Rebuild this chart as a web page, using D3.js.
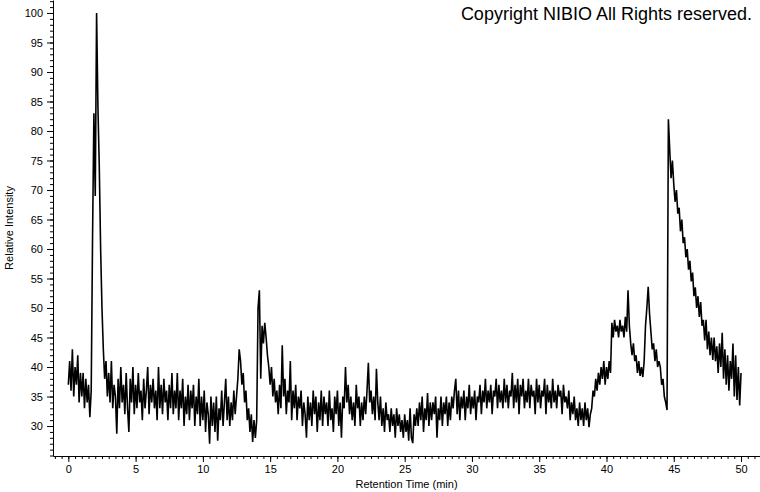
<!DOCTYPE html>
<html>
<head>
<meta charset="utf-8">
<script src="https://cdnjs.cloudflare.com/ajax/libs/d3/7.8.5/d3.min.js"></script>
<style>
  body { margin: 0; background: #fff; }
  .axis text { font-family: "Liberation Sans", Arial, sans-serif; font-size: 11px; fill: #000; }
  .axis line, .axis path { stroke: #000; }
  .label { font-family: "Liberation Sans", Arial, sans-serif; font-size: 11px; fill: #000; }
  .copy { font-family: "Liberation Sans", Arial, sans-serif; font-size: 18px; fill: #000; }
</style>
</head>
<body>
<svg id="chart" width="760" height="492"></svg>
<script>
// retention time step of the trace (min), first point at 0
var timeStep = 0.1;

// relative intensity, 10 points per minute
var intensity00to09 = [
  37, 41, 36, 43, 35, 40, 37, 42, 34, 39,
  35, 39, 33, 38, 34, 37, 31.5, 36, 62, 83,
  69, 100, 84, 74, 60, 50, 43, 38, 41, 35,
  39, 34, 41, 33, 37, 35, 28.7, 38, 33, 40,
  34, 37, 32, 39, 33, 29, 38, 34, 40, 32,
  37, 33, 39, 34, 36, 31, 38, 33, 36, 40,
  32, 37, 34, 38, 33, 36, 31, 40, 33, 37,
  32, 38, 34, 36, 31, 37, 33, 39, 32, 36,
  33, 39, 31, 36, 33, 38, 30, 35, 32, 37,
  31, 36, 33, 37, 30, 35, 32, 38, 30, 35
];
var intensity10to19 = [
  31, 36, 29, 34, 32, 27, 35, 30, 34, 29,
  35, 27.5, 33, 31, 36, 30, 34, 38, 31, 35,
  30, 34, 31, 36, 32, 35, 38, 43, 41, 37,
  39, 34, 36, 31, 33, 29, 32, 27.3, 31, 28,
  31, 50, 53, 38, 47, 44, 47.5, 45, 42, 40,
  37, 40, 35, 38, 34, 36, 32, 37, 33, 43.7,
  35, 38, 32, 36, 34, 41, 31, 36, 33, 37,
  31, 35, 33, 36, 30, 34, 32, 28, 35, 31,
  34, 30, 36, 32, 35, 29, 34, 31, 36, 30,
  35, 32, 34, 30, 36, 31, 33, 29, 35, 32
];
var intensity20to29 = [
  36, 30, 34, 28, 35, 33, 40, 34, 37, 32,
  35, 31, 34, 30, 37, 33, 35, 30, 34, 31,
  35, 32, 36, 40.7, 34, 36, 32, 35, 31, 39.7,
  34, 31, 35, 30, 33, 29, 34, 31, 32, 29,
  33, 30, 32, 28, 33, 30, 32, 29, 31, 28,
  32, 29, 31, 27.5, 33, 28, 27.1, 32, 30, 33,
  30, 34, 31, 35, 29, 33, 31, 35.6, 30, 34,
  31, 34, 32, 35, 28, 33, 31, 35, 30, 34,
  32, 35, 30, 34, 31, 35, 33, 36, 38, 32,
  36, 31, 35, 33, 36, 31, 35, 33, 37, 32
];
var intensity30to39 = [
  35, 33, 36, 31, 35, 34, 37, 32, 36, 34,
  38, 33, 36, 34, 37, 32, 36, 35, 38, 33,
  37, 34, 36, 33, 38, 34, 37, 33, 36, 35,
  39, 33, 37, 34, 38, 32, 37, 35, 38, 33,
  36, 34, 38, 33, 37, 35, 36, 32, 38, 34,
  37, 33, 36, 35, 38, 32, 37, 34, 36, 33,
  38, 34, 36, 33, 37, 35, 36, 32, 37, 34,
  35, 33, 36, 31, 34, 32, 35, 31, 33, 30,
  34, 31, 33, 30, 34, 31, 33, 29.8, 32, 33,
  36, 35, 38, 36, 39, 37, 40, 38, 41, 37
];
var intensity40to50 = [
  40, 38, 41, 39, 47.5, 45, 48, 46, 47, 45,
  48, 46, 47, 45, 48.5, 46, 53, 47, 44, 42,
  44, 41, 42, 39, 41, 38.5, 40, 38.3, 41, 47,
  50, 53.6, 49, 46, 43, 44, 41, 43, 40, 41,
  40, 37, 38, 35, 34, 32.7, 82, 76.8, 72, 75,
  71, 68, 70, 66, 67, 63, 65, 61, 62, 58.6,
  60, 56.5, 58, 54.5, 56, 52, 53.5, 50, 52, 48.5,
  51, 47, 48, 44.5, 48, 43, 46, 42, 45, 41.2,
  45, 41, 43.5, 39, 44, 40, 45.8, 38, 43, 37,
  42, 36, 41, 38, 44, 35, 42, 34.4, 40, 33.5,
  39
];

var xMajorTicks = [0, 5, 10, 15, 20, 25, 30, 35, 40, 45, 50];
var yMajorTicks = [30, 35, 40, 45, 50, 55, 60, 65, 70, 75, 80, 85, 90, 95, 100];

var intensity = [].concat(intensity00to09, intensity10to19, intensity20to29, intensity30to39, intensity40to50);
var trace = intensity.map(function(v, i) { return { t: i * timeStep, v: v }; });

var svg = d3.select("#chart"),
    WIDTH = 760,
    HEIGHT = 492,
    MARGINS = { top: 0, right: 0, bottom: 36, left: 53 };

var xScale = d3.scaleLinear().domain([-1.14, 51.41]).range([MARGINS.left, WIDTH - MARGINS.right]);
var yScale = d3.scaleLinear().domain([24.92, 102.2]).range([HEIGHT - MARGINS.bottom, MARGINS.top]);

svg.append("rect").attr("width", WIDTH).attr("height", HEIGHT).attr("fill", "#fff");

// minor ticks
svg.append("g")
    .attr("class", "axis")
    .attr("transform", "translate(0," + (HEIGHT - MARGINS.bottom) + ")")
    .call(d3.axisBottom(xScale).tickValues(d3.range(-1, 51.5, 0.5)).tickSize(3).tickSizeOuter(0).tickFormat(""));

svg.append("g")
    .attr("class", "axis")
    .attr("transform", "translate(" + MARGINS.left + ",0)")
    .call(d3.axisLeft(yScale).tickValues(d3.range(25, 103, 1)).tickSize(3).tickSizeOuter(0).tickFormat(""));

// major ticks with labels
var xAxis = svg.append("g")
    .attr("class", "axis")
    .attr("transform", "translate(0," + (HEIGHT - MARGINS.bottom) + ")")
    .call(d3.axisBottom(xScale).tickValues(xMajorTicks).tickSize(6).tickPadding(3).tickFormat(d3.format("d")));
xAxis.select(".domain").remove();

var yAxis = svg.append("g")
    .attr("class", "axis")
    .attr("transform", "translate(" + MARGINS.left + ",0)")
    .call(d3.axisLeft(yScale).tickValues(yMajorTicks).tickSize(6).tickPadding(4).tickFormat(d3.format("d")));
yAxis.select(".domain").remove();

var lineGen = d3.line()
    .x(function(d) { return xScale(d.t); })
    .y(function(d) { return yScale(d.v); });

// dense trace: slightly heavier stroke so the noise band reads solid like the original
svg.append("path")
    .attr("d", lineGen(trace))
    .attr("fill", "none")
    .attr("stroke", "#000")
    .attr("stroke-width", 1.6)
    .attr("stroke-linejoin", "miter")
    .attr("stroke-miterlimit", 2);

svg.append("text")
    .attr("class", "label")
    .attr("x", (MARGINS.left + WIDTH) / 2)
    .attr("y", 488)
    .attr("text-anchor", "middle")
    .text("Retention Time (min)");

svg.append("text")
    .attr("class", "label")
    .attr("transform", "translate(13," + ((HEIGHT - MARGINS.bottom) / 2) + ") rotate(-90)")
    .attr("text-anchor", "middle")
    .text("Relative Intensity");

svg.append("text")
    .attr("class", "copy")
    .attr("x", 752)
    .attr("y", 20)
    .attr("text-anchor", "end")
    .text("Copyright NIBIO All Rights reserved.");
</script>
</body>
</html>
